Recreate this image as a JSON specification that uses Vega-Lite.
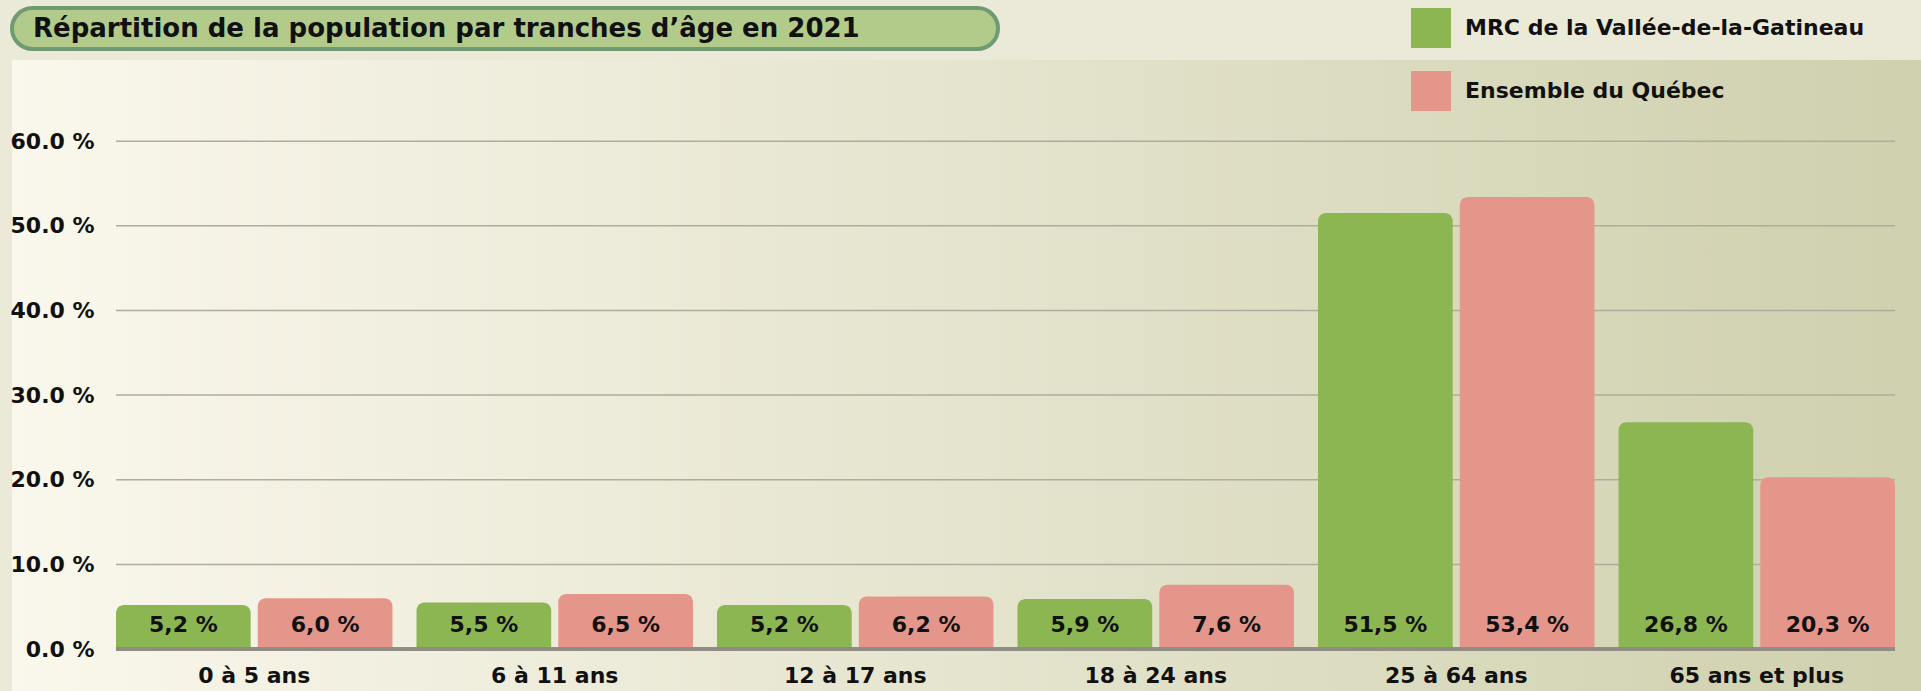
{
  "$schema": "https://vega.github.io/schema/vega-lite/v6.json",
  "background": "#ebe9d8",
  "padding": {"left": 10, "top": 6, "right": 0, "bottom": 0},
  "spacing": 9,
  "bounds": "full",
  "config": {
    "view": {"stroke": null},
    "font": "DejaVu Sans",
    "axis": {"labelFont": "DejaVu Sans", "labelFontWeight": "bold", "labelColor": "#111111"}
  },
  "resolve": {"scale": {"color": "shared"}, "legend": {"color": "shared"}},
  "datasets": {
    "population": [
      {"tranche": "0 à 5 ans", "serie": "MRC de la Vallée-de-la-Gatineau", "valeur": 5.2},
      {"tranche": "0 à 5 ans", "serie": "Ensemble du Québec", "valeur": 6.0},
      {"tranche": "6 à 11 ans", "serie": "MRC de la Vallée-de-la-Gatineau", "valeur": 5.5},
      {"tranche": "6 à 11 ans", "serie": "Ensemble du Québec", "valeur": 6.5},
      {"tranche": "12 à 17 ans", "serie": "MRC de la Vallée-de-la-Gatineau", "valeur": 5.2},
      {"tranche": "12 à 17 ans", "serie": "Ensemble du Québec", "valeur": 6.2},
      {"tranche": "18 à 24 ans", "serie": "MRC de la Vallée-de-la-Gatineau", "valeur": 5.9},
      {"tranche": "18 à 24 ans", "serie": "Ensemble du Québec", "valeur": 7.6},
      {"tranche": "25 à 64 ans", "serie": "MRC de la Vallée-de-la-Gatineau", "valeur": 51.5},
      {"tranche": "25 à 64 ans", "serie": "Ensemble du Québec", "valeur": 53.4},
      {"tranche": "65 ans et plus", "serie": "MRC de la Vallée-de-la-Gatineau", "valeur": 26.8},
      {"tranche": "65 ans et plus", "serie": "Ensemble du Québec", "valeur": 20.3}
    ],
    "graduations": [{"v": 10}, {"v": 20}, {"v": 30}, {"v": 40}, {"v": 50}, {"v": 60}],
    "titre": [{"titre": "Répartition de la population par tranches d’âge en 2021"}]
  },
  "vconcat": [
    {
      "width": 986,
      "height": 41,
      "view": {"fill": "#b3cb8a", "stroke": "#6f9a74", "strokeWidth": 4, "cornerRadius": 22},
      "data": {"name": "titre"},
      "mark": {"type": "text", "align": "left", "baseline": "middle", "dx": -472, "fontSize": 26, "fontWeight": "bold", "font": "DejaVu Sans", "color": "#111111"},
      "encoding": {"text": {"field": "titre", "type": "nominal"}}
    },
    {
      "width": 1909,
      "height": 631,
      "view": {
        "stroke": null,
        "fill": {
          "gradient": "linear", "x1": 0, "y1": 0, "x2": 1, "y2": 0,
          "stops": [
            {"offset": 0, "color": "#faf7ec"},
            {"offset": 0.5, "color": "#e5e4ce"},
            {"offset": 1, "color": "#cfd0ae"}
          ]
        }
      },
      "layer": [
        {
          "data": {"name": "graduations"},
          "mark": {"type": "rule", "color": "#aeac9d", "strokeWidth": 1.5},
          "encoding": {
            "y": {"field": "v", "type": "quantitative"},
            "x": {"datum": "0 à 5 ans", "bandPosition": 0},
            "x2": {"datum": "65 ans et plus", "bandPosition": 1}
          }
        },
        {
          "data": {"name": "population"},
          "mark": {"type": "bar", "cornerRadiusTopLeft": 8, "cornerRadiusTopRight": 8},
          "encoding": {
            "x": {
              "field": "tranche", "type": "nominal", "sort": null,
              "scale": {"type": "band", "domain": ["0 à 5 ans", "6 à 11 ans", "12 à 17 ans", "18 à 24 ans", "25 à 64 ans", "65 ans et plus"], "paddingInner": 0.08, "paddingOuter": 0.2163, "align": 0.8},
              "axis": {"orient": "bottom", "offset": -42, "bandPosition": 0.5, "labelAngle": 0, "labelAlign": "center", "labelPadding": 16, "labelFontSize": 22, "labelBaseline": "top", "ticks": false, "domain": false, "grid": false, "title": null}
            },
            "xOffset": {
              "field": "serie", "type": "nominal",
              "scale": {"domain": ["MRC de la Vallée-de-la-Gatineau", "Ensemble du Québec"], "paddingInner": 0.05, "paddingOuter": 0}
            },
            "y": {
              "field": "valeur", "type": "quantitative",
              "scale": {"domain": [-4.96, 69.59], "nice": false, "zero": false},
              "axis": {"values": [0, 10, 20, 30, 40, 50, 60], "labelExpr": "format(datum.value, '.1f') + ' %'", "grid": false, "domain": false, "ticks": false, "offset": -104, "labelPadding": 22, "minExtent": 0, "maxExtent": 300, "labelFontSize": 22, "title": null}
            },
            "y2": {"datum": 0},
            "color": {
              "field": "serie", "type": "nominal",
              "scale": {"domain": ["MRC de la Vallée-de-la-Gatineau", "Ensemble du Québec"], "range": ["#8cb651", "#e5968a"]},
              "legend": {"orient": "none", "legendX": 1399, "legendY": 0, "title": null, "symbolType": "square", "symbolSize": 1600, "symbolStrokeWidth": 0, "symbolOpacity": 1, "labelFontSize": 22, "labelFont": "DejaVu Sans", "labelFontWeight": "bold", "labelColor": "#111111", "labelOffset": 14, "rowPadding": 23, "padding": 0, "labelLimit": 0}
            }
          }
        },
        {
          "data": {"name": "population"},
          "mark": {"type": "rule", "color": "#8f8c84", "strokeWidth": 2.5},
          "encoding": {
            "y": {"datum": 0, "type": "quantitative"},
            "x": {"datum": "0 à 5 ans", "bandPosition": 0},
            "x2": {"datum": "65 ans et plus", "bandPosition": 1}
          }
        },
        {
          "data": {"name": "population"},
          "transform": [{"calculate": "replace(format(datum.valeur, '.1f'), '.', ',') + ' %'", "as": "etiquette"}],
          "mark": {"type": "text", "dy": -24, "baseline": "middle", "fontSize": 22, "fontWeight": "bold", "font": "DejaVu Sans", "color": "#111111"},
          "encoding": {
            "x": {"field": "tranche", "type": "nominal", "sort": null},
            "xOffset": {"field": "serie", "type": "nominal"},
            "y": {"datum": 0, "type": "quantitative"},
            "text": {"field": "etiquette", "type": "nominal"}
          }
        }
      ]
    }
  ]
}
